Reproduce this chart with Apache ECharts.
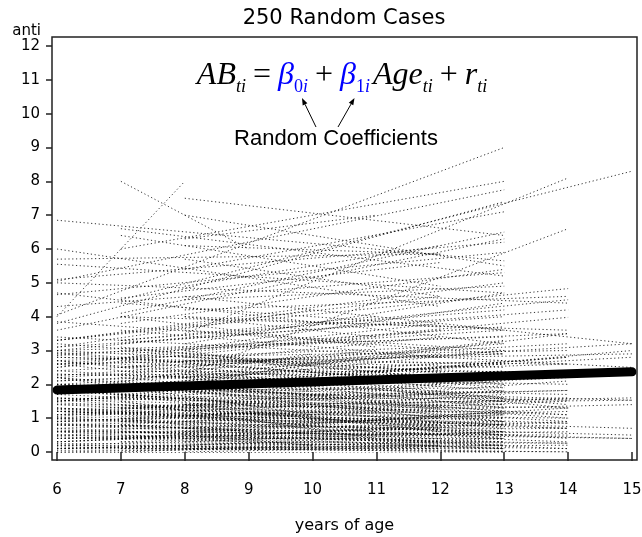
<!DOCTYPE html>
<html>
<head>
<meta charset="utf-8">
<script src="https://cdn.jsdelivr.net/npm/echarts@6/dist/echarts.min.js"></script>
<style>
  html, body { margin: 0; padding: 0; background: #fff; }
  #chart { width: 642px; height: 537px; }
</style>
</head>
<body>
<div id="chart"></div>
<script>
// Each case: anti value at its first and at its last observed age,
// grouped by the span of ages over which the case was followed.
const from6to8 = [[4.0, 8.0], [0.3, 0.5]];
const from6to10 = [[0.1, 0.3], [1.2, 0.9], [2.6, 1.8], [0.6, 0.2], [3.1, 4.2], [1.8, 2.9], [0.0, 0.0], [2.2, 1.1]];
const from6to12 = [
  [6.0, 4.3], [5.7, 5.85], [3.3, 4.6], [2.9, 2.1], [2.5, 3.6], [2.2, 1.4], [2.0, 2.6], [1.8, 1.2], [1.6, 0.8],
  [1.5, 2.3], [1.3, 0.9], [1.2, 1.7], [1.0, 0.5], [0.9, 1.3], [0.8, 0.3], [0.6, 1.0], [0.5, 0.2], [0.4, 0.7],
  [0.2, 0.1], [0.1, 0.4], [0.0, 0.2], [3.0, 2.4], [2.7, 3.1], [1.9, 0.6], [1.1, 2.0]
];
const from6to13 = [
  [6.85, 5.65], [4.05, 9.0], [5.05, 7.75], [3.8, 7.4], [5.55, 4.7], [5.1, 6.2], [4.7, 3.2], [4.3, 5.3],
  [3.85, 2.9], [3.3, 5.0], [3.2, 2.2], [3.1, 4.0], [3.0, 3.4], [2.95, 1.9], [2.85, 3.7], [2.8, 2.5],
  [2.7, 1.3], [2.6, 2.9], [2.5, 4.4], [2.4, 1.6], [2.3, 2.0], [2.25, 3.2], [2.2, 0.9], [2.1, 2.7],
  [2.0, 1.5], [1.95, 2.2], [1.9, 0.7], [1.8, 1.9], [1.75, 3.0], [1.7, 1.1], [1.6, 1.6], [1.55, 0.5],
  [1.5, 2.4], [1.45, 1.0], [1.4, 1.3], [1.3, 0.4], [1.25, 1.8], [1.2, 0.8], [1.1, 1.2], [1.05, 2.1],
  [1.0, 0.6], [0.95, 0.9], [0.9, 1.5], [0.85, 0.3], [0.8, 0.7], [0.7, 1.1], [0.65, 0.2], [0.6, 0.5],
  [0.5, 0.9], [0.45, 0.1], [0.4, 0.4], [0.3, 0.8], [0.25, 0.2], [0.2, 0.6], [0.15, 0.0], [0.1, 0.3],
  [0.05, 0.1], [0.0, 0.0], [3.6, 6.3], [4.65, 5.9]
];
const from6to14 = [
  [3.3, 4.83], [3.0, 4.5], [2.6, 3.98], [2.9, 3.5], [2.4, 3.2], [2.1, 2.6], [1.5, 1.82], [1.9, 1.53],
  [1.6, 1.3], [1.2, 1.0], [0.9, 0.85], [1.4, 0.7], [0.5, 0.26], [0.2, 0.0], [2.8, 2.3], [2.3, 2.0],
  [1.7, 2.8], [1.1, 1.6], [0.8, 1.2], [0.6, 0.5], [0.3, 0.9], [0.1, 0.2], [1.3, 0.4], [2.0, 1.1],
  [0.7, 0.1], [1.0, 2.1], [2.7, 1.4], [1.8, 0.9], [0.4, 0.6], [5.0, 4.4]
];
const from6to15 = [[2.2, 3.2], [1.5, 3.0], [2.0, 1.53], [1.2, 0.7], [0.8, 0.4], [2.6, 2.9], [1.0, 1.4], [3.4, 2.5]];
const from7to9 = [[8.0, 6.0], [1.0, 0.6]];
const from7to11 = [[4.0, 3.1], [2.2, 1.5], [0.8, 1.2], [3.3, 4.0], [1.5, 0.4]];
const from7to12 = [
  [6.4, 4.9], [4.55, 5.6], [3.0, 2.2], [2.5, 3.4], [2.0, 1.0], [1.7, 2.4], [1.2, 0.8], [0.9, 1.6],
  [0.6, 0.3], [0.3, 0.6], [0.1, 0.1], [3.6, 2.8]
];
const from7to13 = [
  [6.6, 5.2], [6.0, 8.0], [4.1, 6.5], [3.8, 5.4], [3.3, 4.2], [3.1, 2.0], [2.9, 3.6], [2.7, 1.6],
  [2.5, 2.9], [2.3, 2.3], [2.1, 1.2], [1.9, 2.6], [1.7, 0.9], [1.6, 1.8], [1.4, 0.6], [1.3, 1.4],
  [1.1, 0.5], [1.0, 1.0], [0.8, 0.2], [0.7, 0.8], [0.5, 0.3], [0.4, 1.2], [0.2, 0.1], [0.0, 0.4], [4.4, 3.6]
];
const from7to14 = [
  [3.2, 4.2], [2.8, 3.0], [2.4, 2.4], [2.0, 1.7], [1.8, 2.8], [1.5, 1.1], [1.3, 0.85], [1.0, 1.5],
  [0.8, 0.3], [0.6, 0.7], [0.3, 0.1], [0.1, 0.0], [2.6, 1.3], [1.6, 2.2], [4.0, 3.6]
];
const from7to15 = [[4.5, 8.3], [2.0, 2.8], [1.3, 1.6], [0.9, 0.5]];
const from8to10 = [[3.0, 2.4], [1.4, 1.0], [0.5, 0.2], [2.0, 2.6]];
const from8to11 = [[6.3, 7.0], [4.0, 3.4], [2.5, 3.0], [1.1, 0.6], [0.3, 0.5]];
const from8to12 = [
  [6.1, 5.85], [5.7, 4.6], [4.9, 6.1], [4.0, 3.7], [3.0, 3.8], [2.6, 2.1], [2.3, 2.9], [1.9, 1.3],
  [1.6, 2.0], [1.3, 0.7], [1.0, 1.2], [0.7, 0.4], [0.4, 0.8], [0.1, 0.2]
];
const from8to13 = [
  [7.5, 6.4], [7.0, 5.5], [5.4, 7.1], [4.5, 4.9], [3.6, 3.0], [3.2, 4.7], [2.8, 2.6], [2.5, 1.8],
  [2.2, 3.3], [1.9, 1.4], [1.7, 2.3], [1.4, 0.8], [1.2, 1.7], [0.9, 0.4], [0.7, 1.1], [0.5, 0.1],
  [0.2, 0.6], [0.0, 0.2]
];
const from8to14 = [
  [3.5, 8.1], [2.3, 6.6], [2.7, 2.6], [2.1, 3.5], [1.8, 1.0], [1.5, 1.82], [1.0, 0.7], [0.6, 1.3],
  [0.3, 0.26], [4.2, 4.6]
];
const from8to15 = [[4.6, 3.2], [1.4, 1.53], [0.6, 0.4]];

// first age, last age, cases followed over that span
const spans = [
  [6, 8, from6to8], [6, 10, from6to10], [6, 12, from6to12], [6, 13, from6to13],
  [6, 14, from6to14], [6, 15, from6to15],
  [7, 9, from7to9], [7, 11, from7to11], [7, 12, from7to12], [7, 13, from7to13],
  [7, 14, from7to14], [7, 15, from7to15],
  [8, 10, from8to10], [8, 11, from8to11], [8, 12, from8to12], [8, 13, from8to13],
  [8, 14, from8to14], [8, 15, from8to15]
];

// average trajectory
const meanAge = [6, 15];
const meanAnti = [1.83, 2.37];

const caseLines = [];
spans.forEach(([firstAge, lastAge, rows]) => {
  rows.forEach(([v0, v1]) => {
    caseLines.push({ coords: [[firstAge, v0], [lastAge, v1]] });
  });
});

const sans = 'DejaVu Sans';
const serif = 'Liberation Serif';
const blue = '#0000ff';

const chart = echarts.init(document.getElementById('chart'), null, { renderer: 'canvas' });

// arrowhead helper for the annotation arrows
function arrow(x0, y0, x1, y1) {
  const dx = x1 - x0, dy = y1 - y0;
  const len = Math.sqrt(dx * dx + dy * dy);
  const ux = dx / len, uy = dy / len;
  const bx = x1 - ux * 7, by = y1 - uy * 7;
  const px = -uy * 2.6, py = ux * 2.6;
  return [
    { type: 'line', shape: { x1: x0, y1: y0, x2: bx, y2: by }, style: { stroke: '#000', lineWidth: 1 } },
    { type: 'polygon', shape: { points: [[x1, y1], [bx + px, by + py], [bx - px, by - py]] }, style: { fill: '#000' } }
  ];
}

const option = {
  animation: false,
  backgroundColor: '#fff',
  title: {
    text: '250 Random Cases',
    left: 339,
    textAlign: 'center',
    top: 3,
    textStyle: { fontFamily: sans, fontSize: 21, fontWeight: 'normal', color: '#000' }
  },
  grid: { left: 57, right: 10, top: 46, bottom: 85, containLabel: false, outerBoundsMode: 'none' },
  xAxis: {
    type: 'value', min: 6, max: 15, interval: 1,
    offset: 8,
    axisLine: { show: false },
    axisTick: { length: 9, lineStyle: { color: '#222', width: 1.5 } },
    axisLabel: { margin: 23, fontFamily: sans, fontSize: 15, color: '#000' },
    splitLine: { show: false },
    name: 'years of age', nameLocation: 'middle', nameGap: 58,
    nameTextStyle: { fontFamily: sans, fontSize: 16, color: '#000' }
  },
  yAxis: {
    type: 'value', min: 0, max: 12, interval: 1,
    offset: 5,
    axisLine: { show: false },
    axisTick: { length: 6, lineStyle: { color: '#222', width: 1.5 } },
    axisLabel: { margin: 12, fontFamily: sans, fontSize: 15, color: '#000' },
    splitLine: { show: false },
    name: 'anti', nameLocation: 'end', nameGap: 7,
    nameTextStyle: { fontFamily: sans, fontSize: 15, color: '#000', align: 'right', padding: [0, 11, 0, 0] }
  },
  series: [
    {
      type: 'lines',
      coordinateSystem: 'cartesian2d',
      silent: true,
      polyline: false,
      lineStyle: { color: '#000', width: 1, type: [1.2, 2.6], opacity: 0.8 },
      data: caseLines,
      z: 2
    },
    {
      type: 'line',
      silent: true,
      showSymbol: false,
      data: meanAge.map((a, i) => [a, meanAnti[i]]),
      lineStyle: { color: '#000', width: 9, cap: 'round' },
      z: 3
    }
  ],
  graphic: [
    {
      type: 'rect',
      shape: { x: 52, y: 37, width: 585, height: 423 },
      style: { fill: null, stroke: '#222', lineWidth: 1.5 },
      z: 10
    },
    {
      type: 'text', x: 342, y: 60, z: 10,
      style: {
        text: '{it|AB}{sub|ti}{op|=}{b|β}{bs|0}{bsi|i}{op|+}{b|β}{bs|1}{bsj|i}{it|Age}{sub|ti}{op|+}{it|r}{sub|ti}',
        align: 'center', verticalAlign: 'top',
        rich: {
          it: { fontFamily: serif, fontStyle: 'italic', fontSize: 32, lineHeight: 32, verticalAlign: 'top', fill: '#000' },
          sub: { fontFamily: serif, fontStyle: 'italic', fontSize: 18, lineHeight: 18, padding: [18, 0, 0, 0], verticalAlign: 'top', fill: '#000' },
          op: { fontFamily: serif, fontSize: 32, lineHeight: 32, padding: [0, 7, 0, 7], verticalAlign: 'top', fill: '#000' },
          b: { fontFamily: serif, fontStyle: 'italic', fontSize: 32, lineHeight: 32, verticalAlign: 'top', fill: blue },
          bs: { fontFamily: serif, fontSize: 18, lineHeight: 18, padding: [18, 0, 0, 0], verticalAlign: 'top', fill: blue },
          bsi: { fontFamily: serif, fontStyle: 'italic', fontSize: 18, lineHeight: 18, padding: [18, 0, 0, 0], verticalAlign: 'top', fill: blue },
          bsj: { fontFamily: serif, fontStyle: 'italic', fontSize: 18, lineHeight: 18, padding: [18, 3, 0, 0], verticalAlign: 'top', fill: blue }
        }
      }
    },
    {
      type: 'text', x: 336, y: 139, z: 10,
      style: {
        text: 'Random Coefficients', align: 'center', verticalAlign: 'middle',
        fontFamily: 'Liberation Sans', fontSize: 22, fill: '#000'
      }
    },
    ...arrow(316, 127, 302, 98),
    ...arrow(338, 127, 354.5, 98)
  ]
};

chart.setOption(option);
</script>
</body>
</html>
